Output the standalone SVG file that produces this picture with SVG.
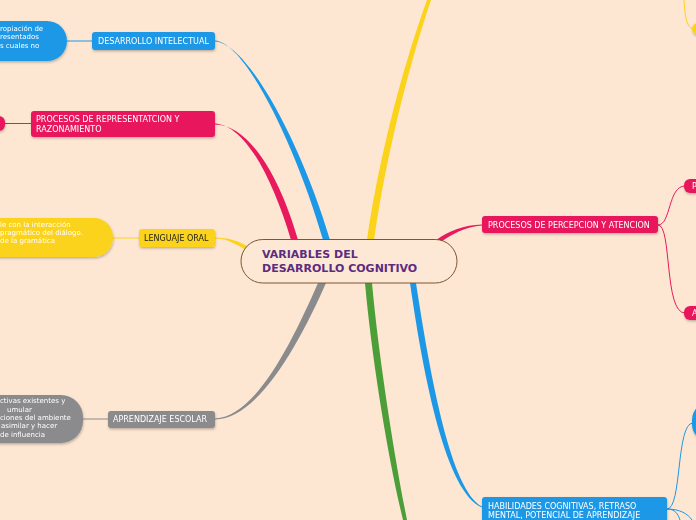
<svg xmlns="http://www.w3.org/2000/svg" width="696" height="520" viewBox="0 0 696 520">
<defs>
<filter id="sh" x="-10%" y="-20%" width="120%" height="160%">
<feDropShadow dx="0.5" dy="1.5" stdDeviation="0.8" flood-color="#000" flood-opacity="0.25"/>
</filter>
<style>
.t{font-family:"DejaVu Sans",Verdana,sans-serif;font-size:8px;fill:#fff}
.d{fill:#222}
.s{font-family:"DejaVu Sans",Verdana,sans-serif;font-size:7px;fill:#fff}
.c{fill:none}
.blue{fill:#1d98e7}
.pink{fill:#e8195d}
.yel{fill:#fbd31a}
.gray{fill:#8b8b8d}
.green{fill:#4c9e38}
</style>
</defs>
<rect width="696" height="520" fill="#fde7d2"/>
<g id="connectors">
<path class="blue" d="M215,40.5 C246,42.5 297,149 323,240 L330,240 C303,148 249,43.5 215,41.5 Z"/>
<path class="pink" d="M215,123.5 C246,125.5 273,180 291,240 L298,240 C281,180 250,124.5 215,124.5 Z"/>
<path class="yel" d="M215,237.5 C228,237.5 238,241 247,246 L246,250 C237,245 228,238.5 215,238.5 Z"/>
<path class="gray" d="M215,418.5 C256,417 293,340 318,283 L326,283 C300,342 258,419.5 215,419.5 Z"/>
<path class="yel" d="M367,240 C377,170 398,80 427,0 L431,0 C404,80 384,170 374,240 Z"/>
<path class="green" d="M365,283 C371,350 386,450 403,520 L407,520 C393,450 378,350 372,283 Z"/>
<path class="blue" d="M410,283 C424,380 446,492 482,507.5 L482,506.5 C451,490 431,380 416,283 Z"/>
<path class="pink" d="M436,240 C449,231 464,225 482,224.5 L482,225.5 C465,227 452,234 441,242 Z"/>
<g fill="none" stroke-width="1">
<path d="M67,41 L92,41" stroke="#1d98e7"/>
<path d="M5,123.5 L31,123.5" stroke="#e8195d"/>
<path d="M113,238 L139,238" stroke="#fbd31a"/>
<path d="M83,419 L108,419" stroke="#8b8b8d"/>
<path d="M658,225 C671,225 668,186 685,186" stroke="#e8195d"/>
<path d="M658,225 C672,225 664,313 685,313" stroke="#e8195d"/>
<path d="M667,509 C682,509 676,423 693,423" stroke="#1d98e7"/>
<path d="M667,509 C675,509 678,514 680,520" stroke="#1d98e7"/>
<path d="M667,509 C680,509 688,514 692,520" stroke="#1d98e7"/>
<path d="M684,0 C685,15 686,27 693,29" stroke="#fbd31a"/>
</g>
</g>
<g id="central">
<rect x="241" y="239.5" width="216" height="43.5" rx="21.7" fill="#fde8d5" stroke="#7b5634" stroke-width="1"/>
<text x="262" y="258" style="font-family:'DejaVu Sans',Verdana,sans-serif;font-size:11px;font-weight:bold;fill:#5b2c7f">VARIABLES DEL</text>
<text x="262" y="272" style="font-family:'DejaVu Sans',Verdana,sans-serif;font-size:11px;font-weight:bold;fill:#5b2c7f">DESARROLLO COGNITIVO</text>
</g>
<g id="n-desarrollo-intelectual" filter="url(#sh)">
<rect class="blue" x="92" y="32" width="123" height="18" rx="3"/>
<text class="t" x="98" y="44">DESARROLLO INTELECTUAL</text>
</g>
<g id="n-blue-left" filter="url(#sh)">
<rect class="blue" x="-40" y="21" width="107" height="40" rx="20"/>
<text class="s" x="0" y="31">ropiación de</text>
<text class="s" x="0" y="39">resentados</text>
<text class="s" x="0" y="48">s cuales no</text>
</g>
<g id="n-representacion" filter="url(#sh)">
<rect class="pink" x="31" y="111" width="184" height="26" rx="3"/>
<text class="t" x="36" y="122">PROCESOS DE REPRESENTATCION Y</text>
<text class="t" x="36" y="132">RAZONAMIENTO</text>
</g>
<g id="n-pink-left" filter="url(#sh)">
<rect class="pink" x="-20" y="116" width="25" height="15" rx="6"/>
</g>
<g id="n-lenguaje-oral" filter="url(#sh)">
<rect class="yel" x="139" y="229" width="76" height="18" rx="3"/>
<text class="t d" x="144" y="241">LENGUAJE ORAL</text>
</g>
<g id="n-yellow-left" filter="url(#sh)">
<rect class="yel" x="-40" y="218" width="153" height="39" rx="19"/>
<text class="s d" x="0" y="227">le con la interacción</text>
<text class="s d" x="0" y="235">pragmático del diálogo.</text>
<text class="s d" x="0" y="243">de la gramática</text>
</g>
<g id="n-aprendizaje-escolar" filter="url(#sh)">
<rect class="gray" x="108" y="411" width="107" height="17" rx="3"/>
<text class="t" x="113" y="422">APRENDIZAJE ESCOLAR</text>
</g>
<g id="n-gray-left" filter="url(#sh)">
<rect class="gray" x="-40" y="395" width="123" height="48" rx="22"/>
<text class="s" x="0" y="403">ctivas existentes y</text>
<text class="s" x="7" y="412">umular</text>
<text class="s" x="0" y="420">ciones del ambiente</text>
<text class="s" x="1" y="428">asimilar y hacer</text>
<text class="s" x="0" y="437">de influencia</text>
</g>
<g id="n-percepcion" filter="url(#sh)">
<rect class="pink" x="482" y="216" width="176" height="17" rx="3"/>
<text class="t" x="488" y="228">PROCESOS DE PERCEPCION Y ATENCION</text>
</g>
<g id="n-pink-right-top" filter="url(#sh)">
<rect class="pink" x="684" y="179" width="30" height="14" rx="6"/>
<text class="t" x="692" y="189">P</text>
</g>
<g id="n-pink-right-bottom" filter="url(#sh)">
<rect class="pink" x="684" y="306" width="30" height="14" rx="6"/>
<text class="t" x="692" y="316">A</text>
</g>
<g id="n-habilidades" filter="url(#sh)">
<rect class="blue" x="482" y="497" width="185" height="30" rx="3"/>
<text class="t" x="488" y="509">HABILIDADES COGNITIVAS, RETRASO</text>
<text class="t" x="488" y="518">MENTAL, POTENCIAL DE APRENDIZAJE</text>
</g>
<g id="n-blue-right" filter="url(#sh)">
<rect class="blue" x="692" y="402" width="40" height="40" rx="18"/>
</g>
<g id="n-yellow-right" filter="url(#sh)">
<rect class="yel" x="692" y="23" width="30" height="12" rx="6"/>
</g>
</svg>
